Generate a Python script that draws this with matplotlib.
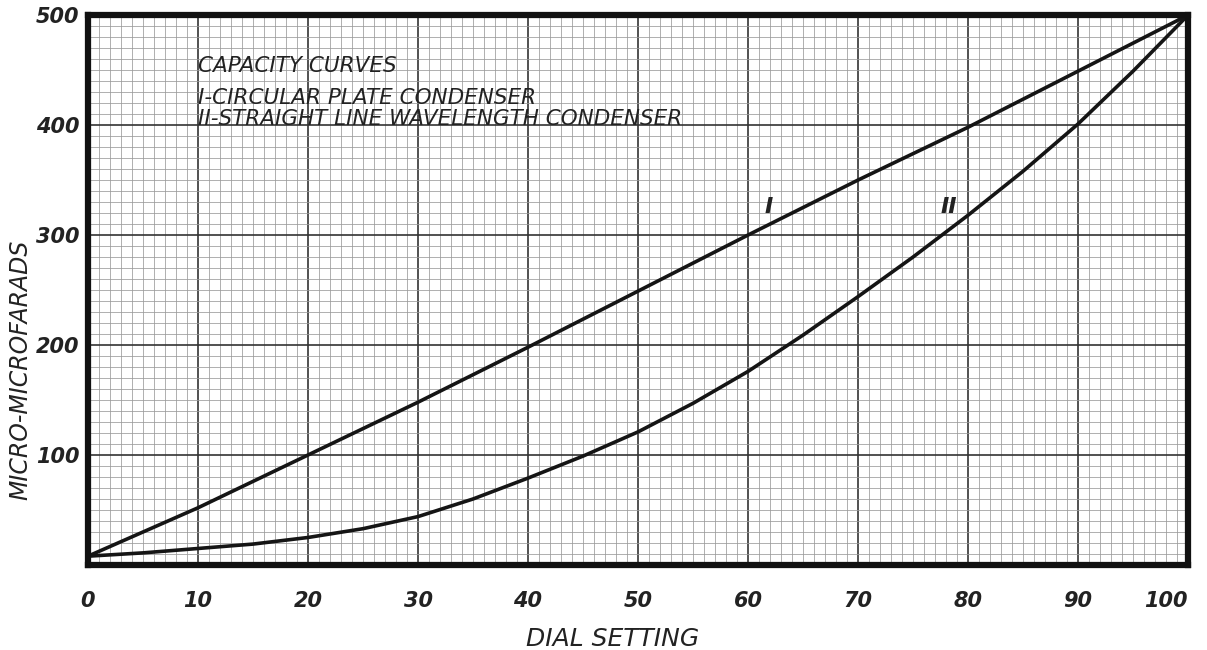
import matplotlib.pyplot as plt
from matplotlib.ticker import MultipleLocator

# dial setting readings
dial_I = [0, 10, 20, 30, 40, 50, 60, 70, 80, 90, 100]
cap_I = [8, 52, 100, 148, 198, 249, 300, 350, 398, 449, 500]

dial_II = [0, 5, 10, 15, 20, 25, 30, 35, 40, 45, 50, 55, 60, 65, 70, 75, 80, 85, 90, 95, 100]
cap_II = [8, 11, 15, 19, 25, 33, 44, 60, 79, 99, 121, 147, 176, 209, 244, 280, 318, 358, 401, 449, 500]

x_ticks = [0, 10, 20, 30, 40, 50, 60, 70, 80, 90, 100]
y_ticks = [100, 200, 300, 400, 500]

title_lines = ["CAPACITY CURVES",
               "I-CIRCULAR PLATE CONDENSER",
               "II-STRAIGHT LINE WAVELENGTH CONDENSER"]

fig = plt.figure(figsize=(12.07, 6.5), dpi=100)
ax = fig.add_axes([0.0729, 0.1308, 0.9114, 0.846])

ax.set_xlim(0, 100)
ax.set_ylim(0, 500)

# graph paper grid
ax.xaxis.set_major_locator(MultipleLocator(10))
ax.xaxis.set_minor_locator(MultipleLocator(1))
ax.yaxis.set_major_locator(MultipleLocator(100))
ax.yaxis.set_minor_locator(MultipleLocator(10))
ax.grid(which='major', color='#333333', lw=1.2)
ax.grid(which='minor', color='#9a9a9a', lw=0.55)
ax.set_axisbelow(True)

ax.plot(dial_I, cap_I, color='#151515', lw=2.6)
ax.plot(dial_II, cap_II, color='#151515', lw=2.6)

hand = dict(style='italic', family='DejaVu Sans', color='#222222')
ax.text(61.5, 320, 'I', fontsize=16, fontweight='bold', **hand)
ax.text(77.5, 320, 'II', fontsize=16, fontweight='bold', **hand)

for t, y in zip(title_lines, [448, 419, 400]):
    ax.text(10, y, t, fontsize=15.5, **hand)

for s in ax.spines.values():
    s.set_linewidth(4.5)
    s.set_color('#111111')

ax.set_xticks(x_ticks)
ax.set_yticks(y_ticks)
ax.set_xticklabels([str(v) for v in x_ticks])
ax.set_yticklabels([str(v) for v in y_ticks])
ax.tick_params(which='both', length=0)
ax.tick_params(axis='x', pad=19)
ax.tick_params(axis='y', pad=6)
for lab in ax.get_xticklabels() + ax.get_yticklabels():
    lab.set_fontstyle('italic')
    lab.set_fontweight('bold')
    lab.set_fontsize(15)
    lab.set_color('#222222')
ax.get_xticklabels()[-1].set_horizontalalignment('right')
ax.get_xticklabels()[-1].set_x(100.9)

ax.set_xlabel('DIAL SETTING', fontsize=18, style='italic', color='#222222')
ax.xaxis.set_label_coords(0.477, -0.112)
ax.set_ylabel('MICRO-MICROFARADS', fontsize=17, style='italic', color='#222222')
ax.yaxis.set_label_coords(-0.051, 0.355)

fig.savefig('out.png', dpi=100)
